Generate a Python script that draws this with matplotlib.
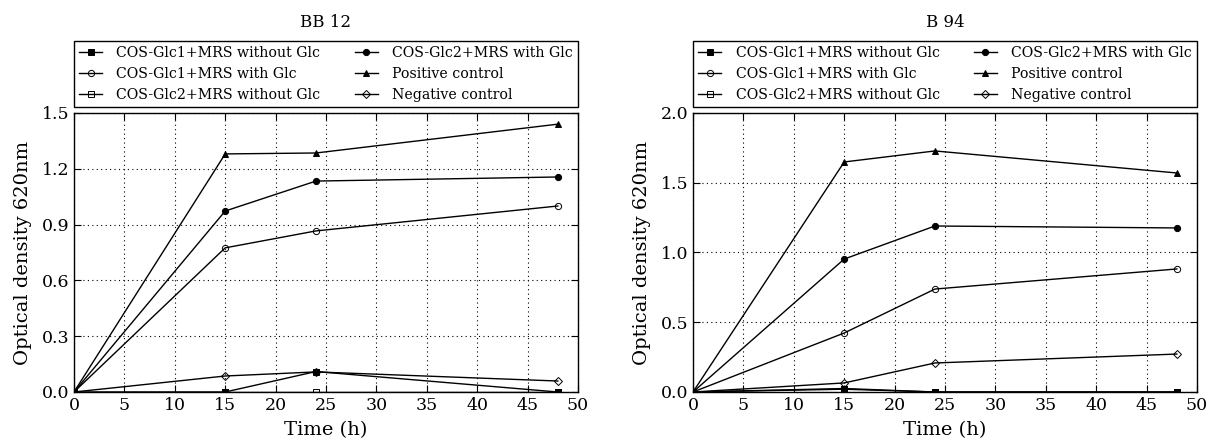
import matplotlib
matplotlib.use("Agg")
import matplotlib.pyplot as plt

plt.rcParams['font.family'] = ['DejaVu Serif']

# ── data ──────────────────────────────
time_h = [0, 15, 24, 48]
labels = ["COS-Glc1+MRS without Glc", "COS-Glc1+MRS with Glc",
          "COS-Glc2+MRS without Glc", "COS-Glc2+MRS with Glc",
          "Positive control", "Negative control"]

bb12_glc1_without = [0, 0, 0.11, 0]
bb12_glc1_with = [0, 0.775, 0.866, 1.0]
bb12_glc2_without = [0, 0, 0, 0]
bb12_glc2_with = [0, 0.973, 1.134, 1.156]
bb12_positive = [0, 1.28, 1.285, 1.44]
bb12_negative = [0, 0.086, 0.108, 0.059]

b94_glc1_without = [0, 0.025, 0, 0]
b94_glc1_with = [0, 0.423, 0.738, 0.882]
b94_glc2_without = [0, 0.02, 0, 0]
b94_glc2_with = [0, 0.953, 1.19, 1.176]
b94_positive = [0, 1.649, 1.728, 1.57]
b94_negative = [0, 0.065, 0.208, 0.272]

styles = [("s", "k"), ("o", "none"), ("s", "none"),
          ("o", "k"), ("^", "k"), ("D", "none")]

panels = [
    ("BB 12", [bb12_glc1_without, bb12_glc1_with, bb12_glc2_without,
               bb12_glc2_with, bb12_positive, bb12_negative],
     1.5, [0, 0.3, 0.6, 0.9, 1.2, 1.5], "{:.1f}"),
    ("B 94", [b94_glc1_without, b94_glc1_with, b94_glc2_without,
              b94_glc2_with, b94_positive, b94_negative],
     2.0, [0, 0.5, 1.0, 1.5, 2.0], "{:.1f}"),
]

fig = plt.figure(figsize=(12.07, 4.41), dpi=100)
lefts = [74 / 1207, 693 / 1207]

for left, (title, series, ymax, yticks, fmt) in zip(lefts, panels):
    ax = fig.add_axes([left, 49 / 441, 504 / 1207, 279 / 441])
    handles = []
    for vals, lab, (mk, fc) in zip(series, labels, styles):
        ms = 4.2 if mk == "D" else 4.5
        h, = ax.plot(time_h, vals, color="k", lw=1.0, marker=mk,
                     markersize=ms, markerfacecolor=fc,
                     markeredgecolor="k", markeredgewidth=0.7, label=lab)
        handles.append(h)
    ax.set_xlim(0, 50)
    ax.set_ylim(0, ymax)
    ax.set_xticks(range(0, 51, 5))
    ax.set_yticks(yticks)
    ax.set_yticklabels([fmt.format(t) for t in yticks])
    ax.grid(True, color="k", linestyle=(0, (1, 3)), linewidth=0.8)
    ax.tick_params(direction="in", top=True, right=True, labelsize=12.5,
                   length=5)
    for sp in ax.spines.values():
        sp.set_linewidth(1.0)
    ax.set_xlabel("Time (h)", fontsize=14, labelpad=5)
    ax.set_ylabel("Optical density 620nm", fontsize=14, labelpad=7)
    ax.text(0.5, (392 - 23) / 279, title, transform=ax.transAxes,
            ha="center", va="center", fontsize=12)
    leg = ax.legend(handles=handles, ncol=2, mode="expand",
                    loc="lower left", bbox_to_anchor=(0, 1.0215, 1, 0.24),
                    borderaxespad=0, fontsize=10.2, handlelength=1.65,
                    handletextpad=1.0, labelspacing=0.5, borderpad=0.35,
                    fancybox=False, edgecolor="k", framealpha=1,
                    columnspacing=0.8)
    leg.get_frame().set_linewidth(1.0)

fig.savefig("out.png", dpi=100)
